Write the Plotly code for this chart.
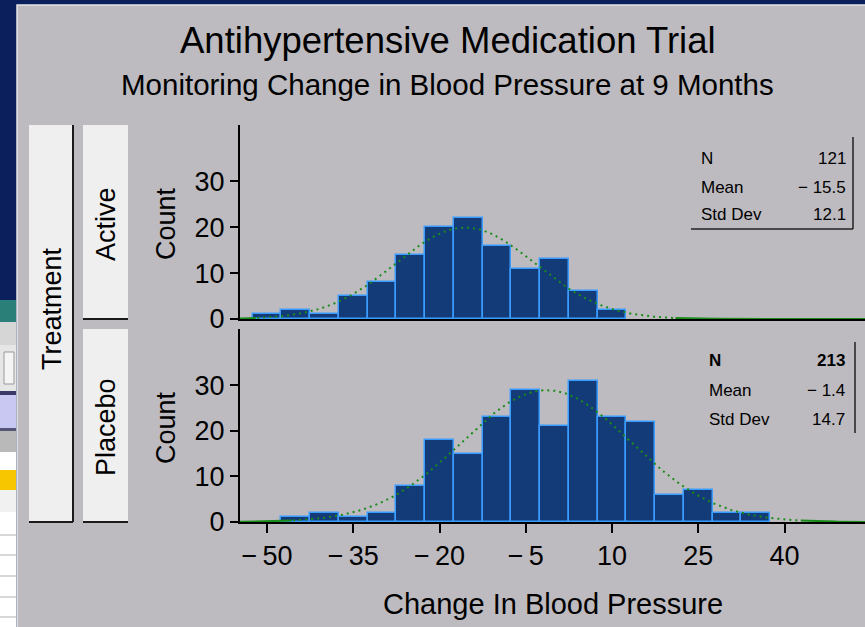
import numpy as np
import plotly.graph_objects as go

W, H = 865, 627          # picture size the layout is designed in
PAGE_H = 642             # page height the photographer captures (scaled to 627)

# ---------------- data ----------------
bin_width = 5
active_centers = [-50, -45, -40, -35, -30, -25, -20, -15, -10, -5, 0, 5, 10]
active_counts = [1, 2, 1, 5, 8, 14, 20, 22, 16, 11, 13, 6, 2]
placebo_centers = [-45, -40, -35, -30, -25, -20, -15, -10, -5, 0, 5, 10, 15, 20, 25, 30, 35]
placebo_counts = [1, 2, 1, 2, 8, 18, 15, 23, 29, 21, 31, 23, 22, 6, 7, 2, 2]

active_stats = {"N": "121", "Mean": "\u2212 15.5", "Std Dev": "12.1"}
placebo_stats = {"N": "213", "Mean": "\u2212 1.4", "Std Dev": "14.7"}
active_n, active_mean, active_sd = 121, -15.5, 12.1
placebo_n, placebo_mean, placebo_sd = 213, -1.4, 14.7

x_tickvals = [-50, -35, -20, -5, 10, 25, 40]
x_ticktext = ["\u2212\u200950", "\u2212\u200935", "\u2212\u200920", "\u2212\u20095", "10", "25", "40"]
y_tickvals = [0, 10, 20, 30]

title = "Antihypertensive Medication Trial"
subtitle = "Monitoring Change in Blood Pressure at 9 Months"
x_title = "Change In Blood Pressure"
# ---------------------------------------

FONT = "Liberation Sans, Arial, sans-serif"
NAVY_BG = "#0b1f5c"
GRAY = "#bdbbbf"
BAR_FILL = "#133b78"
BAR_EDGE = "#3a9cff"
GREEN = "#1a8c1a"

XR = [-54.7, 54.0]
YR = [0, 42.3]


def px(x):
    return x / W


def py(y):
    return 1 - y / H


fig = go.Figure()


def add_panel(centers, counts, n, mean, sd, xa, ya):
    fig.add_trace(go.Bar(
        x=centers, y=counts, width=bin_width,
        marker=dict(color=BAR_FILL, line=dict(color=BAR_EDGE, width=1.5)),
        xaxis=xa, yaxis=ya, showlegend=False, hoverinfo="x+y"))
    xs = np.linspace(XR[0], XR[1], 400)
    dens = n * bin_width / (sd * np.sqrt(2 * np.pi)) * np.exp(-0.5 * ((xs - mean) / sd) ** 2)
    z = np.abs((xs - mean) / sd)
    mid = np.where(z <= 3.0, dens, np.nan)
    tail = np.where(z >= 3.0, dens, np.nan)
    fig.add_trace(go.Scatter(x=xs, y=mid, mode="lines",
                             line=dict(color=GREEN, width=2, dash="2px,4px"),
                             xaxis=xa, yaxis=ya, showlegend=False, hoverinfo="skip"))
    fig.add_trace(go.Scatter(x=xs, y=tail, mode="lines",
                             line=dict(color=GREEN, width=2),
                             xaxis=xa, yaxis=ya, showlegend=False, hoverinfo="skip"))


add_panel(active_centers, active_counts, active_n, active_mean, active_sd, "x", "y")
add_panel(placebo_centers, placebo_counts, placebo_n, placebo_mean, placebo_sd, "x2", "y2")

shapes = []
# gray main panel
shapes.append(dict(type="rect", xref="paper", yref="paper", x0=px(17), x1=px(870),
                   y0=py(5), y1=py(640), fillcolor=GRAY,
                   line=dict(color="#e6e6e6", width=1.5), layer="below"))

# left-edge window remnants
bands = [
    (300, 322, "#2a7f78"), (322, 345, "#d6d6d6"), (345, 391, "#e6e6e6"),
    (391, 395, "#3a3a6a"), (395, 428, "#c9c8f2"), (428, 431, "#555577"),
    (431, 452, "#b9b9b9"), (452, 470, "#ffffff"), (470, 490, "#f7c600"),
    (490, 512, "#f1f1f1"), (512, 640, "#ffffff"),
]
for y0, y1, c in bands:
    shapes.append(dict(type="rect", xref="paper", yref="paper", x0=0, x1=px(16),
                       y0=py(y0), y1=py(y1), fillcolor=c, line=dict(width=0), layer="below"))
for yl in [535, 555, 576, 597, 617]:
    shapes.append(dict(type="line", xref="paper", yref="paper", x0=0, x1=px(16),
                       y0=py(yl), y1=py(yl), line=dict(color="#b0b0b0", width=1), layer="below"))
shapes.append(dict(type="rect", xref="paper", yref="paper", x0=px(4), x1=px(14),
                   y0=py(352), y1=py(384), fillcolor="#f4f4f4",
                   line=dict(color="#999999", width=1), layer="below"))

# strip label boxes
for (x0, x1, y0, y1) in [(29, 73, 125, 522), (83, 128, 125, 319), (83, 128, 329, 522)]:
    shapes.append(dict(type="rect", xref="paper", yref="paper", x0=px(x0), x1=px(x1),
                       y0=py(y0), y1=py(y1), fillcolor="#efefef", line=dict(width=0)))
    shapes.append(dict(type="line", xref="paper", yref="paper", x0=px(x0), x1=px(x1),
                       y0=py(y1), y1=py(y1), line=dict(color="#1a1a1a", width=2)))
shapes.append(dict(type="line", xref="paper", yref="paper", x0=px(73), x1=px(73),
                   y0=py(125), y1=py(522), line=dict(color="#1a1a1a", width=2)))

# inset boxes
shapes.append(dict(type="line", xref="paper", yref="paper", x0=px(853), x1=px(853),
                   y0=py(137), y1=py(229), line=dict(color="#222222", width=1.5)))
shapes.append(dict(type="line", xref="paper", yref="paper", x0=px(691), x1=px(853),
                   y0=py(229), y1=py(229), line=dict(color="#222222", width=1.5)))
shapes.append(dict(type="line", xref="paper", yref="paper", x0=px(855), x1=px(855),
                   y0=py(342), y1=py(433), line=dict(color="#222222", width=1.5)))

ann = []


def txt(x, y, s, size, angle=0, xanchor="center"):
    ann.append(dict(xref="paper", yref="paper", x=px(x), y=py(y), text=s, showarrow=False,
                    font=dict(family=FONT, size=size, color="#000000"), textangle=angle,
                    xanchor=xanchor, yanchor="middle"))


txt(447.5, 40, title, 36.5)
txt(447.5, 84, subtitle, 29.5)
txt(553, 604, x_title, 29)
txt(52, 309, "Treatment", 27, angle=-90)
txt(106, 224, "Active", 27, angle=-90)
txt(106, 427, "Placebo", 27, angle=-90)
txt(166, 224, "Count", 27, angle=-90)
txt(166, 428, "Count", 27, angle=-90)

for i, (k, v) in enumerate(active_stats.items()):
    yy = [158, 187, 215][i]
    txt(699, yy, k, 17, xanchor="left")
    txt(848, yy, v, 17, xanchor="right")
for i, (k, v) in enumerate(placebo_stats.items()):
    yy = [360, 390, 419][i]
    txt(707, yy, "<b>" + k + "</b>" if i == 0 else k, 17, xanchor="left")
    txt(847, yy, "<b>" + v + "</b>" if i == 0 else v, 17, xanchor="right")

axis_common = dict(showgrid=False, zeroline=False, showline=True, linecolor="#000000",
                   linewidth=2)

fig.update_layout(
    width=W, height=PAGE_H, margin=dict(l=0, r=0, t=0, b=0),
    paper_bgcolor=NAVY_BG, plot_bgcolor="#ffffff",
    bargap=0, barmode="overlay", showlegend=False,
    shapes=shapes, annotations=ann,
    xaxis=dict(domain=[px(240), 1], range=XR, anchor="y", showticklabels=False,
               ticks="", tickvals=x_tickvals, **axis_common),
    xaxis2=dict(domain=[px(240), 1], range=XR, anchor="y2", matches="x",
                tickvals=x_tickvals, ticktext=x_ticktext, ticks="outside", ticklen=9,
                tickwidth=1.5, tickcolor="#000000",
                tickfont=dict(family=FONT, size=27, color="#000000"), **axis_common),
    yaxis=dict(domain=[py(319), py(125)], range=YR, anchor="x", tickvals=y_tickvals,
               ticks="outside", ticklen=8, tickwidth=1.5, tickcolor="#000000",
               tickfont=dict(family=FONT, size=27, color="#000000"), **axis_common),
    yaxis2=dict(domain=[py(522), py(329)], range=YR, anchor="x2", tickvals=y_tickvals,
                ticks="outside", ticklen=8, tickwidth=1.5, tickcolor="#000000",
                tickfont=dict(family=FONT, size=27, color="#000000"), **axis_common),
)

page_fix = (
    "var s='margin:0;padding:0;overflow:hidden;background:" + NAVY_BG + ";';"
    "document.documentElement.style.cssText=s;document.body.style.cssText=s;"
)

fig.write_html(
    "out.html",
    config={"displayModeBar": False},
    post_script=page_fix,
)
